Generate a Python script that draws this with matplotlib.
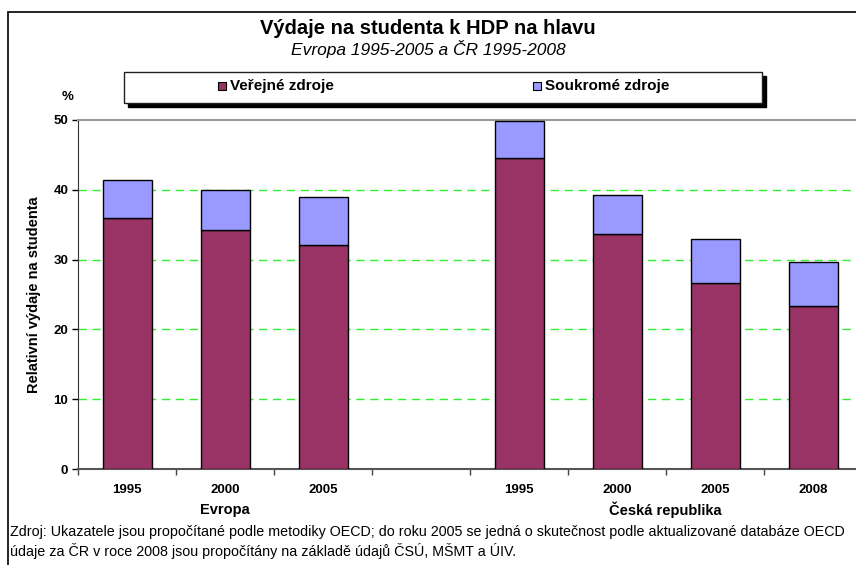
import matplotlib
matplotlib.use("Agg")
import matplotlib.pyplot as plt
from matplotlib.patches import Rectangle
import numpy as np

plt.rcParams['font.family'] = ['Liberation Sans', 'DejaVu Sans']

years = ["1995", "2000", "2005", "", "1995", "2000", "2005", "2008"]
groups = ["Evropa", "Česká republika"]
public = [36.0, 34.2, 32.1, np.nan, 44.5, 33.6, 26.6, 23.4]
private = [5.4, 5.7, 6.8, np.nan, 5.3, 5.7, 6.3, 6.3]
series_names = ["Veřejné zdroje", "Soukromé zdroje"]
yticks = [0, 10, 20, 30, 40, 50]

W, H = 856, 565
fig = plt.figure(figsize=(W / 100, H / 100), dpi=100)

def fx(px):
    return px / W

def fy(py):
    return 1 - py / H

# outer frame
fig.patches.append(Rectangle((fx(8), fy(566)), fx(900), fy(12) - fy(566),
                             transform=fig.transFigure, fill=False,
                             edgecolor='black', linewidth=1.2))

ax = fig.add_axes([fx(78), fy(469), fx(862) - fx(78), fy(120) - fy(469)])
x = np.arange(len(years))
pub = np.array(public)
pri = np.array(private)
ax.bar(x, pub, width=0.5, color='#993366', edgecolor='black', linewidth=1.0, zorder=3)
ax.bar(x, pri, width=0.5, bottom=pub, color='#9999FF', edgecolor='black', linewidth=1.0, zorder=3)

ax.set_xlim(-0.5, len(years) - 0.5)
ax.set_ylim(0, 50)
ax.set_yticks(yticks)
ax.set_yticklabels([str(v) for v in yticks], fontweight='bold', fontsize=9.5)
ax.tick_params(axis='y', direction='out', length=4, width=1, pad=3)
ax.set_xticks(x)
ax.set_xticklabels(years, fontweight='bold', fontsize=9.5)
ax.tick_params(axis='x', which='major', length=0, pad=11)
ax.set_xticks(np.arange(len(years) + 1) - 0.5, minor=True)
ax.tick_params(axis='x', which='minor', direction='out', length=4, width=1, colors='#444444')

for v in yticks[1:-1]:
    ax.axhline(v, color='#33EE33', linestyle=(0, (6, 4)), linewidth=1.0, zorder=1)

ax.spines['top'].set_color('#999999')
ax.spines['top'].set_linewidth(1.5)
ax.spines['right'].set_visible(False)
ax.spines['left'].set_color('#333333')
ax.spines['bottom'].set_color('#555555')
ax.spines['bottom'].set_linewidth(1.5)

ax.set_ylabel("Relativní výdaje na studenta", fontweight='bold', fontsize=10.5, labelpad=9)

# group labels
fig.text(fx(225), fy(510), groups[0], ha='center', va='center', fontweight='bold', fontsize=10.5)
fig.text(fx(665), fy(510), groups[1], ha='center', va='center', fontweight='bold', fontsize=10.5)

# titles
fig.text(fx(428), fy(29), "Výdaje na studenta k HDP na hlavu", ha='center', va='center',
         fontweight='bold', fontsize=14.5)
fig.text(fx(428), fy(49), "Evropa 1995-2005 a ČR 1995-2008", ha='center', va='center',
         fontstyle='italic', fontsize=12.5)
fig.text(fx(68), fy(97), "%", ha='center', va='center', fontweight='bold', fontsize=9.5)

# legend box with shadow
lx0, lx1, ly0, ly1 = 124, 762, 72, 103
fig.patches.append(Rectangle((fx(lx0 + 4), fy(ly1 + 4)), fx(lx1 - lx0), fy(ly0) - fy(ly1),
                             transform=fig.transFigure, facecolor='black', edgecolor='black'))
fig.patches.append(Rectangle((fx(lx0), fy(ly1)), fx(lx1 - lx0), fy(ly0) - fy(ly1),
                             transform=fig.transFigure, facecolor='white', edgecolor='#222222',
                             linewidth=1.0))
for mx, col, name in [(222, '#993366', series_names[0]), (537, '#9999FF', series_names[1])]:
    fig.patches.append(Rectangle((fx(mx - 4), fy(90)), fx(8), fy(82) - fy(90),
                                 transform=fig.transFigure, facecolor=col, edgecolor='black',
                                 linewidth=0.8))
    fig.text(fx(mx + 8), fy(86), name, ha='left', va='center', fontweight='bold', fontsize=11)

# footer
fig.text(fx(10), fy(532), "Zdroj: Ukazatele jsou propočítané podle metodiky OECD; do roku 2005 se jedná o skutečnost podle aktualizované databáze OECD",
         ha='left', va='center', fontsize=10.3)
fig.text(fx(10), fy(551), "údaje za ČR v roce 2008 jsou propočítány na základě údajů ČSÚ, MŠMT a ÚIV.",
         ha='left', va='center', fontsize=10.3)

fig.savefig("out.png", dpi=100)
